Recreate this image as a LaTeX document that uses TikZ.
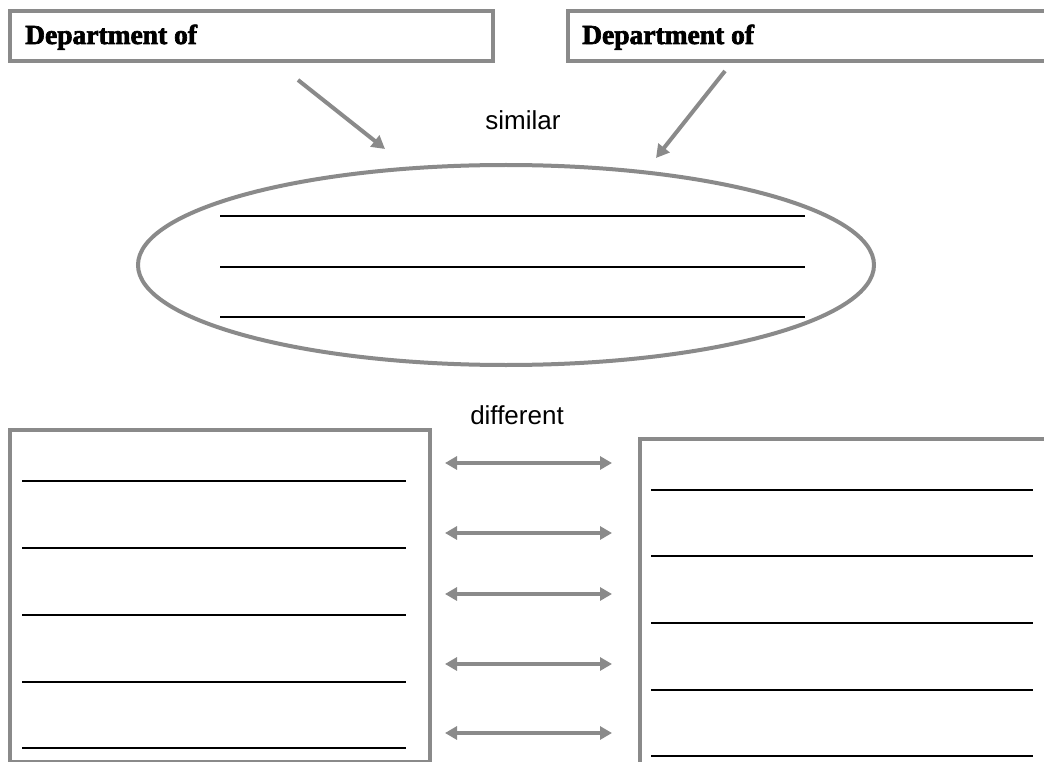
\documentclass[tikz,border=0pt]{standalone}
\usepackage{fontspec}
\setmainfont{Liberation Serif}
\setsansfont{Liberation Sans}
\newfontfamily\titlefont[BoldFeatures={FakeBold=2.5}]{Liberation Serif}
\usetikzlibrary{arrows.meta,shapes.geometric}
\definecolor{frame}{HTML}{8A8A8A}
\tikzset{
  box/.style={draw=frame, line width=4pt, inner sep=0pt},
  writeline/.style={black, line width=2.3pt},
  grayarrow/.style={draw=frame, line width=4pt, -{Triangle[length=13pt,width=14pt]}},
  twoway/.style={draw=frame, line width=4pt, {Triangle[length=12pt,width=13pt]}-{Triangle[length=12pt,width=13pt]}},
  title/.style={font=\titlefont\fontsize{27.5}{30}\selectfont\bfseries, anchor=base west, inner sep=0pt},
  label/.style={font=\sffamily\fontsize{26}{28}\selectfont, inner sep=0pt, anchor=base}
}
\begin{document}
\begin{tikzpicture}[x=1pt,y=-1pt]
\clip (0,0) rectangle (1044,762);
\fill[white] (0,0) rectangle (1044,762);
% top boxes
\node[box, minimum width=483pt, minimum height=50pt, anchor=north west] (deptA) at (8,9) {};
\node[box, minimum width=490pt, minimum height=50pt, anchor=north west] (deptB) at (566,9) {};
\node[title] (deptAt) at (25,44) {Department of};
\node[title] (deptBt) at (582,44) {Department of};
% similar
\node[label] (sim) at (523,130) {similar};
\node[box, ellipse, minimum width=736pt, minimum height=200pt] (ell) at (506,265) {};
\coordinate (a1s) at (298,80);
\coordinate (a1e) at (385,149);
\coordinate (a2s) at (725,71);
\coordinate (a2e) at (656,158);
\draw[grayarrow] (a1s) -- (a1e);
\draw[grayarrow] (a2s) -- (a2e);
\foreach \y in {216,267,317} \draw[writeline] (220,\y) -- (805,\y);
% different
\node[label] (diff) at (517,424) {different};
\node[box, minimum width=420pt, minimum height=332pt, anchor=north west] (left) at (8,428) {};
\node[box, minimum width=420pt, minimum height=340pt, anchor=north west] (right) at (638,437) {};
\foreach \y in {481,548,615,682,748} \draw[writeline] (22,\y) -- (406,\y);
\foreach \y in {490,556,623,690,756} \draw[writeline] (651,\y) -- (1033,\y);
\foreach \y [count=\i] in {463,533,594,664,733} {
  \coordinate (l\i) at (445,\y);
  \coordinate (r\i) at (612,\y);
  \draw[twoway] (l\i) -- (r\i);
}
\end{tikzpicture}
\end{document}
